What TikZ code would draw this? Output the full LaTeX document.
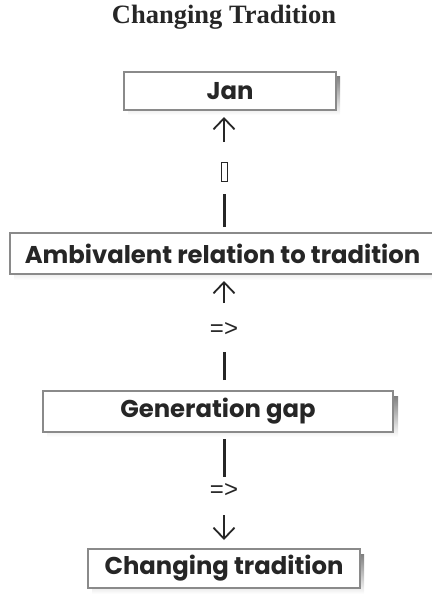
\documentclass[tikz,border=0pt]{standalone}
\usepackage{fontspec}
\setmainfont{Poppins}
\newfontfamily\titlefont{Liberation Serif}
\newfontfamily\symfont{Liberation Sans}
\usetikzlibrary{arrows.meta}
\definecolor{ink}{HTML}{262626}
\definecolor{edge}{HTML}{8A8A8A}
\definecolor{shade}{HTML}{A8A8A8}
\tikzset{
  box/.style={draw=edge, line width=1.2pt, fill=white, inner sep=0pt, text=ink,
    font=\fontsize{24.3}{28}\selectfont\bfseries},
  bar/.style={draw=ink, line width=3pt},
  uparrow/.style={draw=ink, line width=1.8pt, -{Straight Barb[length=11pt,width=21pt,line width=1.8pt]}},
  sym/.style={text=ink, font=\symfont\fontsize{24}{26}\selectfont, inner sep=0pt},
}
\begin{document}
\begin{tikzpicture}[x=1pt,y=-1pt]
\useasboundingbox (0,0) rectangle (431,594);
% title
\node[font=\titlefont\fontsize{26.5}{30}\selectfont\bfseries, text=ink, anchor=base] (title) at (224,24) {Changing Tradition};
% shadows
\fill[shade] (128,76) rectangle (340,115);
\fill[shade] (14,238) rectangle (440,280);
\fill[shade] (47,396) rectangle (398,437);
\fill[shade] (92,554) rectangle (364,594);
% boxes
\node[box, minimum width=212pt, minimum height=38pt] (jan) at (230,91) {Jan};
\node[box, minimum width=425pt, minimum height=41pt] (amb) at (222.5,253.5) {Ambivalent relation to tradition};
\node[box, minimum width=350pt, minimum height=41pt] (gen) at (218,411.5) {Generation gap};
\node[box, minimum width=272pt, minimum height=39pt] (chg) at (224,568.5) {Changing tradition};
% connector amb -> jan
\coordinate (a1) at (224,227);
\coordinate (a2) at (224,194);
\coordinate (a3) at (224,142);
\coordinate (a4) at (224,117);
\draw[bar] (a1) -- (a2);
\node[draw=ink, line width=0.9pt, minimum width=6pt, minimum height=19pt, inner sep=0pt] (glyph) at (224,172) {};
\draw[uparrow] (a3) -- (a4);
% connector gen -> amb
\coordinate (b1) at (224,380);
\coordinate (b2) at (224,352);
\coordinate (b3) at (224,303);
\coordinate (b4) at (224,281);
\draw[bar] (b1) -- (b2);
\node[sym] (s1) at (224,330) {=>};
\draw[uparrow] (b3) -- (b4);
% connector gen -> chg
\coordinate (c1) at (224,439);
\coordinate (c2) at (224,477);
\coordinate (c3) at (224,515);
\coordinate (c4) at (224,540);
\draw[bar] (c1) -- (c2);
\node[sym] (s2) at (224,490) {=>};
\draw[uparrow] (c3) -- (c4);
\end{tikzpicture}
\end{document}
